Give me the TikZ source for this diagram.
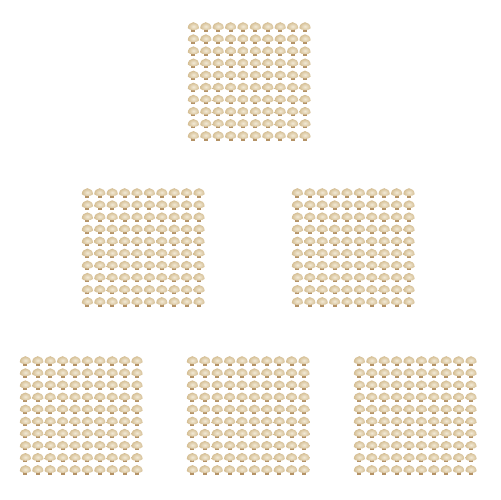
\documentclass[tikz,border=0pt]{standalone}
\usepackage{tikz}
\definecolor{beadcap}{RGB}{212,189,146}
\definecolor{beadlight}{RGB}{243,235,216}
\definecolor{beadstem}{RGB}{180,146,102}
\tikzset{
  bead/.pic={
    \fill[beadstem] (-2,1) rectangle (2,4.6);
    \shade[inner color=beadlight, outer color=beadcap]
      (-5.6,1.2) arc[start angle=180, end angle=360, x radius=5.6, y radius=6]
      .. controls (4,3.6) and (-4,3.6) .. cycle;
  }
}
% one grid of ten by ten beads, top left corner at #1,#2 (pixels)
\newcommand{\beadgrid}[2]{%
  \foreach \i in {0,...,9}
    \foreach \j in {0,...,9}
      \pic at ({#1+5.4+12.4*\i},{#2+5+12.1*\j}) {bead};
}
\begin{document}
\begin{tikzpicture}[x=0.02cm,y=-0.02cm]
  \useasboundingbox (0,0) rectangle (500,500);
  \fill[white] (0,0) rectangle (500,500);
  \beadgrid{188}{22}
  \beadgrid{82}{188}
  \beadgrid{292}{188}
  \beadgrid{20}{356}
  \beadgrid{187}{356}
  \beadgrid{354}{356}
\end{tikzpicture}
\end{document}
